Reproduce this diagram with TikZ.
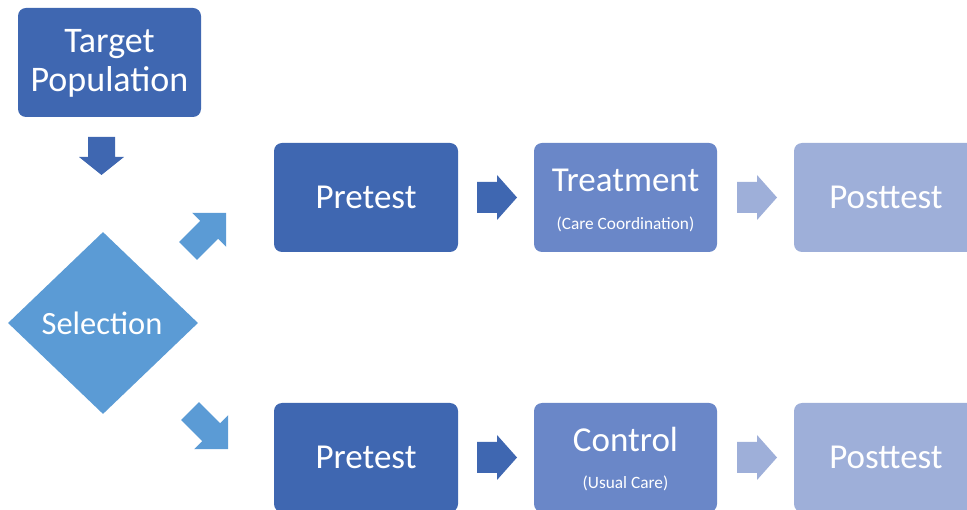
\documentclass[tikz,border=0pt]{standalone}
\usepackage{fontspec}
\setmainfont{Carlito}
\usetikzlibrary{shapes.geometric}
\definecolor{dkblue}{RGB}{63,103,177}
\definecolor{selblue}{RGB}{91,155,213}
\definecolor{midblue}{RGB}{106,135,200}
\definecolor{ltblue}{RGB}{158,175,217}
\newcommand{\blockarr}[7]{%
  \fill[#7, shift={#1}, rotate=#2] (0,-#5) -- (#3-#4,-#5) -- (#3-#4,-#6) -- (#3,0) -- (#3-#4,#6) -- (#3-#4,#5) -- (0,#5) -- cycle;}
\begin{document}
\begin{tikzpicture}[x=1pt,y=-1pt,
  box/.style={rectangle, rounded corners=8pt, inner sep=0pt, minimum width=184pt, minimum height=109pt},
  big/.style={text=white, inner sep=0pt, font=\fontsize{35}{38.5}\selectfont},
  small/.style={text=white, inner sep=0pt, font=\fontsize{17.3}{19}\selectfont}]
\useasboundingbox (0,0) rectangle (967,510);
\clip (0,0) rectangle (967,510);
% boxes
\node[box, fill=dkblue, minimum width=183pt] (target) at (109.5,62.5) {};
\node[big, align=center, font=\fontsize{36}{38.5}\selectfont] (targetT) at (109.5,63.5) {Target\\Population};
\node[diamond, fill=selblue, inner sep=0pt, minimum width=190pt, minimum height=182pt] (sel) at (103,323) {};
\node[big, font=\fontsize{32.5}{36}\selectfont] (selT) at (102,323) {Selection};

\node[box, fill=dkblue] (pre1) at (366,197.5) {};
\node[big] (pre1T) at (366,197) {Pretest};
\node[box, fill=midblue, minimum width=183pt] (treat) at (625.5,197.5) {};
\node[big] (treatT) at (625.5,180) {Treatment};
\node[small] (treatS) at (625.5,224.5) {(Care Coordination)};
\node[box, fill=ltblue] (post1) at (886,197.5) {};
\node[big] (post1T) at (886,197) {Posttest};

\node[box, fill=dkblue] (pre2) at (366,457.5) {};
\node[big] (pre2T) at (366,457) {Pretest};
\node[box, fill=midblue, minimum width=183pt] (ctrl) at (625.5,457.5) {};
\node[big] (ctrlT) at (625.5,439) {Control};
\node[small] (ctrlS) at (625.5,483.5) {(Usual Care)};
\node[box, fill=ltblue] (post2) at (886,457.5) {};
\node[big] (post2T) at (886,457) {Posttest};

% arrow anchors
\coordinate (aDown) at (101.5,137);
\coordinate (aNE) at (188,251);
\coordinate (aSE) at (190,411);
\coordinate (aR1) at (477,197.5);
\coordinate (aR2) at (737,197.5);
\coordinate (aR3) at (477,457.5);
\coordinate (aR4) at (737,457.5);

\blockarr{(aDown)}{-90}{38}{18}{13.5}{22.5}{dkblue}
\blockarr{(aNE)}{45}{54}{24}{12.7}{24}{selblue}
\blockarr{(aSE)}{-45}{54}{24}{12.7}{24}{selblue}
\blockarr{(aR1)}{0}{40}{20}{15.5}{22.5}{dkblue}
\blockarr{(aR2)}{0}{40}{20}{15.5}{22.5}{ltblue}
\blockarr{(aR3)}{0}{40}{20}{15.5}{22.5}{dkblue}
\blockarr{(aR4)}{0}{40}{20}{15.5}{22.5}{ltblue}
\end{tikzpicture}
\end{document}
